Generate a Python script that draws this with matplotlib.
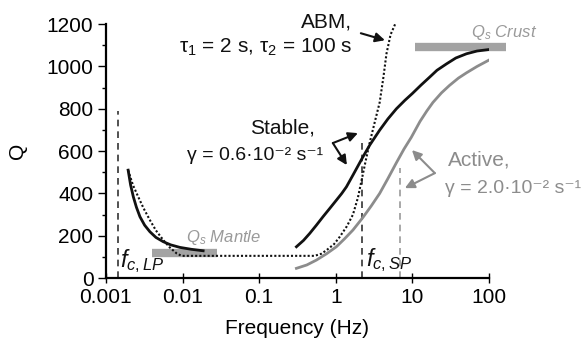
import numpy as np
import matplotlib
matplotlib.use('Agg')
import matplotlib.pyplot as plt

plt.rcParams['font.family'] = ['Liberation Sans', 'DejaVu Sans']
plt.rcParams['mathtext.fontset'] = 'custom'
plt.rcParams['mathtext.rm'] = 'Liberation Sans'
plt.rcParams['mathtext.it'] = 'Liberation Sans:italic'

# values
stable_lp_f = [0.00195, 0.0021, 0.00228, 0.0025, 0.00278, 0.0032, 0.00375, 0.0045, 0.0056,
               0.007, 0.00925, 0.013, 0.0186]
stable_lp_q = [510, 440, 384, 335, 290, 250, 219, 192, 172, 157, 145, 136, 129]
stable_sp_f = [0.307, 0.38, 0.458, 0.56, 0.683, 0.84, 1.02, 1.2, 1.38, 1.7, 2.27, 2.8, 3.75,
               4.8, 6.2, 8.0, 10, 13, 16.9, 21, 27.9, 37, 51, 70, 100]
stable_sp_q = [148, 178, 211, 250, 290, 330, 368, 400, 431, 490, 573, 630, 699,
               752, 800, 840, 872, 912, 950, 982, 1012, 1040, 1060, 1073, 1080]

active_f = [0.307, 0.42, 0.56, 0.76, 1.02, 1.3, 1.68, 2.25, 2.9, 3.75, 4.8, 6.2, 7.8, 9.7,
            12.6, 15.5, 18.6, 24, 30.5, 40, 51, 70, 100]
active_q = [46, 62, 85, 115, 148, 185, 227, 285, 340, 400, 470, 545, 610, 665,
            740, 790, 830, 875, 910, 945, 970, 1000, 1030]

abm_f = [0.00195, 0.00225, 0.00264, 0.0031, 0.00375, 0.0045, 0.0056, 0.0068, 0.00836, 0.0097,
         0.53, 0.65, 0.76, 0.95, 1.13, 1.4, 1.68, 1.95, 2.23, 2.5, 2.78, 3.2, 3.75, 4.2, 4.6,
         5.2, 6.07]
abm_q = [510, 440, 384, 330, 274, 225, 180, 145, 117, 105,
         105, 115, 132, 160, 195, 245, 300, 380, 480, 565, 640, 730, 830, 950, 1060,
         1150, 1206]

mantle_f = [0.00394, 0.0281]
mantle_q = 119
crust_f = [10.7, 167]
crust_q = 1093

fc_lp, fc_lp_top = 0.00143, 790
fc_sp, fc_sp_top = 2.23, 660
fc_act, fc_act_top = 6.85, 520

xticks = [0.001, 0.01, 0.1, 1, 10, 100]
xticklabels = ['0.001', '0.01', '0.1', '1', '10', '100']
yticks = [0, 200, 400, 600, 800, 1000, 1200]

black = '#111111'
gray = '#8c8c8c'
bar_gray = '#a3a3a3'
fs = 15

fig, ax = plt.subplots(figsize=(5.82, 3.45), dpi=100)
fig.subplots_adjust(left=0.182, right=0.840, bottom=0.194, top=0.930)

# cutoff frequencies
ax.plot([fc_lp, fc_lp], [0, fc_lp_top], ls=(0, (4, 3)), color='#333333', lw=1.2)
ax.plot([fc_sp, fc_sp], [0, fc_sp_top], ls=(0, (4, 3)), color='#333333', lw=1.2)
ax.plot([fc_act, fc_act], [0, fc_act_top], ls=(0, (4, 3)), color='#999999', lw=1.2)

# reference Q bars
ax.plot(mantle_f, [mantle_q, mantle_q], color=bar_gray, lw=6, solid_capstyle='butt', clip_on=False)
ax.plot(crust_f, [crust_q, crust_q], color=bar_gray, lw=6, solid_capstyle='butt', clip_on=False)

# models
ax.plot(abm_f, abm_q, color=black, lw=1.5, ls=(0, (1, 1)), clip_on=False)
ax.plot(active_f, active_q, color=gray, lw=2.0)
ax.plot(stable_lp_f, stable_lp_q, color=black, lw=2.0)
ax.plot(stable_sp_f, stable_sp_q, color=black, lw=2.0)

ax.set_xscale('log')
ax.set_xlim(0.001, 100)
ax.set_ylim(0, 1200)
ax.set_xticks(xticks)
ax.set_xticklabels(xticklabels)
ax.xaxis.set_minor_locator(matplotlib.ticker.NullLocator())
ax.set_yticks(yticks)
ax.yaxis.set_minor_locator(matplotlib.ticker.MultipleLocator(100))
ax.tick_params(axis='x', which='major', direction='inout', length=7, width=1, labelsize=fs, pad=4)
ax.tick_params(axis='y', which='major', direction='out', length=6, width=1, labelsize=fs, pad=3)
ax.tick_params(axis='y', which='minor', direction='out', length=3, width=1)
for s in ['top', 'right']:
    ax.spines[s].set_visible(False)
for s in ['left', 'bottom']:
    ax.spines[s].set_linewidth(1.6)

ax.set_xlabel('Frequency (Hz)', fontsize=fs, labelpad=8)
ax.set_ylabel('Q', fontsize=fs, labelpad=14)

arrow_black = dict(arrowstyle='-|>', color=black, lw=1.5, mutation_scale=14, shrinkA=0, shrinkB=0)
arrow_gray = dict(arrowstyle='-|>', color=gray, lw=1.5, mutation_scale=14, shrinkA=0, shrinkB=0)

# annotations
ax.text(1.63, 1209, 'ABM,', fontsize=fs, ha='right', va='center', color=black)
ax.text(1.68, 1091, 'τ$_1$ = 2 s, τ$_2$ = 100 s', fontsize=fs, ha='right', va='center', color=black)
ax.annotate('', xy=(4.39, 1124), xytext=(2.13, 1157), arrowprops=arrow_black)

ax.text(0.535, 709, 'Stable,', fontsize=fs, ha='right', va='center', color=black)
ax.text(0.68, 581, 'γ = 0.6·10⁻² s⁻¹', fontsize=14, ha='right', va='center', color=black)
for head in [(1.95, 685), (1.40, 534)]:
    ax.annotate('', xy=head, xytext=(0.918, 638), arrowprops=arrow_black)

ax.text(29.2, 557, 'Active,', fontsize=fs, ha='left', va='center', color=gray, clip_on=False)
ax.text(27.0, 425, 'γ = 2.0·10⁻² s⁻¹', fontsize=14, ha='left', va='center', color=gray,
        clip_on=False)
for head in [(9.9, 605), (8.0, 425)]:
    ax.annotate('', xy=head, xytext=(19.7, 496), arrowprops=arrow_gray)

ax.text(0.011, 194, 'Q$_s$ Mantle', fontsize=12, style='italic', ha='left', va='center', color='#9a9a9a')
ax.text(58.2, 1162, 'Q$_s$ Crust', fontsize=12, style='italic', ha='left', va='center', color='#9a9a9a',
        clip_on=False)

ax.text(0.00152, 80, '$f_{c,LP}$', fontsize=17, ha='left', va='center', color=black)
ax.text(2.48, 85, '$f_{c,SP}$', fontsize=17, ha='left', va='center', color=black)

fig.savefig('out.png', dpi=100)
